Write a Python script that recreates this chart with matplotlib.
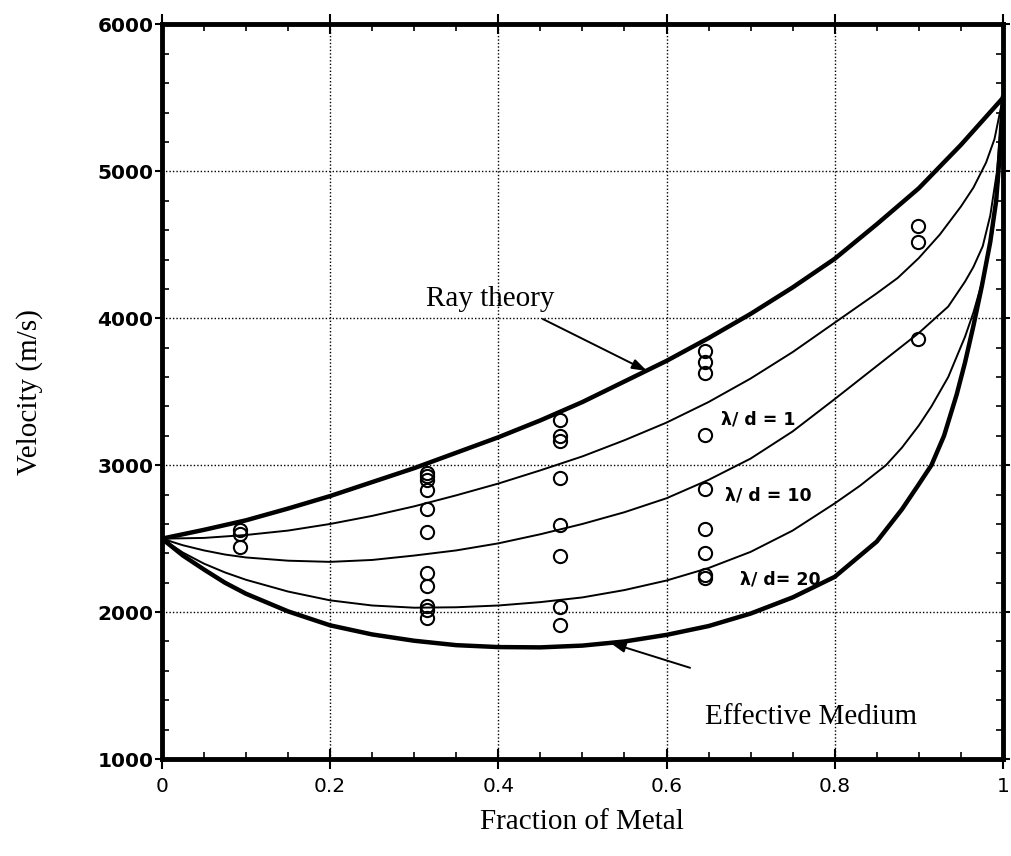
import matplotlib
matplotlib.use("Agg")
import matplotlib.pyplot as plt
from matplotlib.ticker import MultipleLocator, FixedLocator, FixedFormatter

# ---- data ----
ray_x = [0.0, 0.05, 0.1, 0.15, 0.2, 0.25, 0.3, 0.35, 0.4, 0.45, 0.5, 0.55, 0.6, 0.65,
         0.7, 0.75, 0.8, 0.85, 0.9, 0.95, 1.0]
ray_v = [2500, 2560, 2625, 2705, 2790, 2885, 2980, 3085, 3190, 3305, 3430, 3570, 3710, 3865,
         4030, 4210, 4405, 4640, 4885, 5180, 5500]

ld1_x = [0.0, 0.05, 0.1, 0.15, 0.2, 0.25, 0.3, 0.35, 0.4, 0.45, 0.5, 0.55, 0.6, 0.65,
         0.7, 0.75, 0.8, 0.85, 0.875, 0.9, 0.925, 0.95, 0.965, 0.98, 0.99, 1.0]
ld1_v = [2500, 2505, 2525, 2555, 2600, 2655, 2720, 2795, 2875, 2965, 3060, 3170, 3290, 3430,
         3590, 3770, 3970, 4170, 4275, 4410, 4570, 4760, 4890, 5060, 5220, 5500]

ld10_x = [0.0, 0.025, 0.05, 0.075, 0.1, 0.15, 0.2, 0.25, 0.3, 0.35, 0.4, 0.45, 0.5, 0.55,
          0.6, 0.65, 0.7, 0.75, 0.8, 0.85, 0.9, 0.935, 0.955, 0.965, 0.976, 0.985, 0.993, 1.0]
ld10_v = [2500, 2455, 2420, 2392, 2372, 2350, 2342, 2355, 2385, 2420, 2468, 2530, 2600, 2680,
          2775, 2900, 3045, 3230, 3450, 3675, 3900, 4080, 4250, 4350, 4490, 4700, 5000, 5500]

ld20_x = [0.0, 0.025, 0.05, 0.075, 0.1, 0.15, 0.2, 0.25, 0.3, 0.35, 0.4, 0.45, 0.5, 0.55,
          0.6, 0.65, 0.7, 0.75, 0.8, 0.83, 0.861, 0.88, 0.9, 0.915, 0.935, 0.955, 0.965,
          0.976, 0.988, 0.995, 1.0]
ld20_v = [2500, 2405, 2330, 2270, 2220, 2140, 2080, 2045, 2030, 2033, 2045, 2068, 2100, 2150,
          2215, 2300, 2410, 2555, 2740, 2860, 3000, 3120, 3270, 3400, 3600, 3875, 4040,
          4260, 4600, 4950, 5500]

em_x = [0.0, 0.025, 0.05, 0.075, 0.1, 0.15, 0.2, 0.25, 0.3, 0.35, 0.4, 0.45, 0.5, 0.55,
        0.6, 0.65, 0.7, 0.75, 0.8, 0.85, 0.88, 0.9, 0.915, 0.93, 0.945, 0.955, 0.965,
        0.975, 0.985, 0.992, 0.996, 1.0]
em_v = [2500, 2385, 2290, 2200, 2125, 2005, 1910, 1848, 1805, 1775, 1762, 1760, 1772, 1800,
        1845, 1905, 1990, 2100, 2240, 2480, 2700, 2870, 3000, 3200, 3480, 3700, 3950,
        4220, 4520, 4800, 5100, 5500]

meas_x = [0.093] * 3 + [0.315] * 11 + [0.473] * 8 + [0.646] * 9 + [0.899] * 3
meas_v = [2560, 2535, 2440,
          2945, 2925, 2900, 2830, 2705, 2545, 2265, 2175, 2040, 2015, 1960,
          3310, 3200, 3165, 2915, 2590, 2385, 2035, 1915,
          3775, 3700, 3630, 3205, 2840, 2565, 2400, 2255, 2235,
          4630, 4520, 3860]

x_ticks = [0.0, 0.2, 0.4, 0.6, 0.8, 1.0]
x_tick_labels = ["0", "0.2", "0.4", "0.6", "0.8", "1"]
y_ticks = [1000, 2000, 3000, 4000, 5000, 6000]
y_tick_labels = ["1000", "2000", "3000", "4000", "5000", "6000"]

# ---- figure ----
fig = plt.figure(figsize=(10.12, 8.56), dpi=100)
ax = fig.add_axes([0.160, 0.1133, 0.831, 0.8581])

thick = 3.2
thin = 1.4
ax.plot(ray_x, ray_v, color="black", lw=thick, solid_joinstyle="round", zorder=3)
ax.plot(ld1_x, ld1_v, color="black", lw=thin, solid_joinstyle="round", zorder=3)
ax.plot(ld10_x, ld10_v, color="black", lw=thin, solid_joinstyle="round", zorder=3)
ax.plot(ld20_x, ld20_v, color="black", lw=thin, solid_joinstyle="round", zorder=3)
ax.plot(em_x, em_v, color="black", lw=thick, solid_joinstyle="round", zorder=3)
ax.plot(meas_x, meas_v, linestyle="none", marker="o", markersize=9.5,
        markerfacecolor="none", markeredgecolor="black", markeredgewidth=1.5, zorder=4)

ax.set_xlim(0, 1)
ax.set_ylim(1000, 6000)

ax.xaxis.set_major_locator(FixedLocator(x_ticks))
ax.xaxis.set_major_formatter(FixedFormatter(x_tick_labels))
ax.yaxis.set_major_locator(FixedLocator(y_ticks))
ax.yaxis.set_major_formatter(FixedFormatter(y_tick_labels))
ax.xaxis.set_minor_locator(MultipleLocator(0.05))
ax.yaxis.set_minor_locator(MultipleLocator(200))

ax.grid(True, which="major", linestyle=(0, (1, 1.5)), color="black", linewidth=1.0)
ax.set_axisbelow(True)

for s in ax.spines.values():
    s.set_linewidth(3.5)

ax.tick_params(axis="x", which="major", direction="inout", length=14, width=1.5,
               top=True, labelsize=14.5, pad=6)
ax.tick_params(axis="y", which="major", direction="out", length=5, width=1.5,
               right=True, labelsize=14.5, pad=1)
ax.tick_params(which="minor", direction="in", length=5, width=1.2,
               top=True, right=True)
for lab in ax.get_yticklabels():
    lab.set_fontweight("bold")
    lab.set_family("DejaVu Sans")

serif = "Liberation Serif"
ax.set_xlabel("Fraction of Metal", family=serif, fontsize=21)
ax.set_ylabel("Velocity (m/s)", family=serif, fontsize=21)
ax.xaxis.set_label_coords(0.5, -0.068)
ax.yaxis.set_label_coords(-0.141, 0.5)

arrow_style = dict(arrowstyle="-|>,head_length=0.9,head_width=0.3",
                   color="black", lw=1.4, shrinkA=0, shrinkB=0)

ax.text(0.39, 4131, "Ray theory", ha="center", va="center", family=serif,
        fontsize=21, zorder=5)
ax.annotate("", xy=(0.577, 3641), xytext=(0.453, 3995), arrowprops=arrow_style, zorder=5)

ax.text(0.772, 1289, "Effective Medium", ha="center", va="center", family=serif,
        fontsize=21, zorder=5)
ax.annotate("", xy=(0.533, 1791), xytext=(0.628, 1621), arrowprops=arrow_style, zorder=5)

ax.text(0.665, 3314, "λ/ d = 1", ha="left", va="center", fontsize=12.5,
        fontweight="bold", family="DejaVu Sans")
ax.text(0.669, 2791, "λ/ d = 10", ha="left", va="center", fontsize=12.5,
        fontweight="bold", family="DejaVu Sans")
ax.text(0.687, 2223, "λ/ d= 20", ha="left", va="center", fontsize=12.5,
        fontweight="bold", family="DejaVu Sans")

fig.savefig("out.png", dpi=100)
